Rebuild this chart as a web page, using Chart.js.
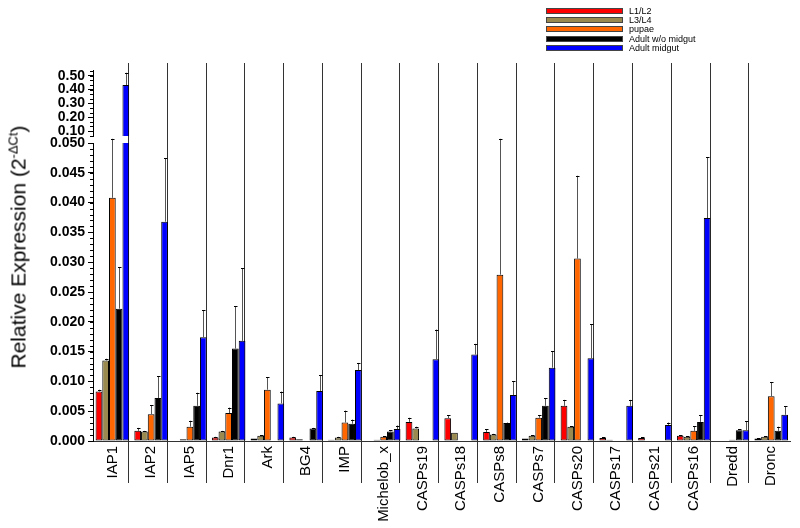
<!DOCTYPE html>
<html><head><meta charset="utf-8">
<script src="https://cdn.jsdelivr.net/npm/chart.js@4.4.1/dist/chart.umd.min.js"></script>
<style>
html,body{margin:0;padding:0;background:#fff;}
#wrap{position:relative;width:800px;height:528px;overflow:hidden;font-family:"Liberation Sans",Arial,sans-serif;background:#fff;}
canvas{position:absolute;left:0;top:0;}
#ytitle{position:absolute;left:18px;top:247px;transform:translate(-50%,-50%) rotate(-90deg);font-size:21px;white-space:nowrap;line-height:1;color:#000;}
#ytitle sup{font-size:13px;vertical-align:8px;line-height:0;}
#legend{position:absolute;left:546px;top:6px;font-size:9px;color:#000;}
.row{height:9.4px;display:flex;align-items:center;}
.box{width:75px;height:4px;border:1px solid #444;margin-right:6px;}
</style></head>
<body><div id="wrap">
<canvas id="lower" width="800" height="528"></canvas>
<canvas id="upper" width="800" height="150"></canvas>
<div id="ytitle">Relative Expression (2<sup>-ΔCt</sup>)</div>
<div id="legend"></div>
</div>
<script>
const categories = ['IAP1','IAP2','IAP5','Dnr1','Ark','BG4','IMP','Michelob_x','CASPs19','CASPs18','CASPs8','CASPs7','CASPs20','CASPs17','CASPs21','CASPs16','Dredd','Dronc'];
const seriesNames = ['L1/L2','L3/L4','pupae','Adult w/o midgut','Adult midgut'];

const l1l2      = [0.0083,0.0017,0.0001,0.0006,0.0004,0.0006,0.0002,0.0001,0.0032,0.0038,0.0015,0.0004,0.0059,0.0005,0.0005,0.0009,0.0001,0.0004];
const l1l2Err   = [0.0003,0.0005,0,0.0001,0,0.0001,0,0,0.0007,0.0005,0.0005,0,0.0010,0.0001,0.0001,0.0001,0,0.0001];
const l3l4      = [0.0135,0.0016,0.0003,0.0016,0.0009,0.0003,0.0006,0.0002,0.0021,0.0014,0.0011,0.0009,0.0024,0.0002,0.0001,0.0007,0.0001,0.0007];
const l3l4Err   = [0.0003,0.0001,0,0.0001,0.0001,0,0.0001,0,0.0003,0,0.0001,0.0001,0.0001,0,0,0.0001,0,0.0001];
const pupae     = [0.0408,0.0045,0.0024,0.0047,0.0086,null,0.0031,0.0007,null,null,0.0279,0.0039,0.0306,null,null,0.0017,0.0002,0.0075];
const pupaeErr  = [0.0099,0.0015,0.0010,0.0009,0.0021,0,0.0020,0.0001,0,0,0.0228,0.0004,0.0139,0,0,0.0008,0,0.0024];
const adultWo   = [0.0222,0.0072,0.0059,0.0155,null,0.0021,0.0029,0.0016,null,null,0.0030,0.0059,null,null,null,0.0032,0.0018,0.0017];
const adultWoErr= [0.0070,0.0037,0.0022,0.0071,0,0.0001,0.0007,0.0002,0,0,0.0001,0.0013,0,0,0,0.0011,0.0002,0.0007];
const adultMid  = [0.433,0.0368,0.0174,0.0168,0.0063,0.0084,0.0119,0.0020,0.0137,0.0145,0.0077,0.0123,0.0139,0.0059,0.0027,0.0374,0.0018,0.0044];
const adultMidErr=[0.089,0.0106,0.0045,0.0122,0.0020,0.0026,0.0012,0.0006,0.0050,0.0018,0.0023,0.0028,0.0057,0.0010,0.0004,0.0102,0.0015,0.0014];

const lowerTickValues = [0.000,0.005,0.010,0.015,0.020,0.025,0.030,0.035,0.040,0.045,0.050];
const upperTickValues = [0.10,0.20,0.30,0.40,0.50];

const seriesValues = [l1l2,l3l4,pupae,adultWo,adultMid];
const seriesErrors = [l1l2Err,l3l4Err,pupaeErr,adultWoErr,adultMidErr];
const seriesColors = ['#ff0000','#9a8a50','#ff6600','#000000','#0000ff'];

const FONT = '"Liberation Sans", Arial, sans-serif';
const CAT_PCT = 0.867;
const PLOT_LEFT = 93;
const PLOT_RIGHT_PAD = 9.4;

// legend
const lg = document.getElementById('legend');
seriesNames.forEach((n,i)=>{
  const r=document.createElement('div');r.className='row';
  const b=document.createElement('div');b.className='box';b.style.background=seriesColors[i];
  const t=document.createElement('span');t.textContent=n;
  r.appendChild(b);r.appendChild(t);lg.appendChild(r);
});

function makeDatasets(){
  return seriesValues.map((vals,i)=>({
    label: seriesNames[i],
    data: vals,
    errors: seriesErrors[i],
    backgroundColor: seriesColors[i],
    borderColor: '#000',
    borderWidth: 1,
    borderSkipped: false,
    categoryPercentage: CAT_PCT,
    barPercentage: 1.0,
    clip: 0
  }));
}

const errorBars = {
  id:'errorBars',
  afterDatasetsDraw(chart){
    const ctx=chart.ctx, ys=chart.scales.y;
    chart.data.datasets.forEach((ds,i)=>{
      const meta=chart.getDatasetMeta(i);
      meta.data.forEach((el,j)=>{
        const v=ds.data[j], e=ds.errors[j];
        if(v==null||!e) return;
        if(v<ys.min||v>ys.max) return;
        const x=Math.round(el.x)+0.5;
        const y0=ys.getPixelForValue(v), y1=ys.getPixelForValue(v+e);
        ctx.save();
        ctx.lineWidth=1;
        ctx.strokeStyle='#555';
        ctx.beginPath();ctx.moveTo(x,y0);ctx.lineTo(x,y1);ctx.stroke();
        ctx.strokeStyle='#000';
        ctx.beginPath();ctx.moveTo(x-1.5,Math.round(y1)+0.5);ctx.lineTo(x+2,Math.round(y1)+0.5);ctx.stroke();
        ctx.restore();
      });
    });
  }
};

function minorTicks(step){
  return {
    id:'minorTicks',
    afterDraw(chart){
      const ctx=chart.ctx, ys=chart.scales.y, left=chart.chartArea.left;
      const start=Math.ceil(ys.min/step-1e-6);
      ctx.save();ctx.strokeStyle='#000';ctx.lineWidth=1;
      for(let k=start;;k++){
        const v=k*step; if(v>ys.max+1e-9) break;
        const y=Math.round(ys.getPixelForValue(v))+0.5;
        ctx.beginPath();ctx.moveTo(left-3,y);ctx.lineTo(left,y);ctx.stroke();
      }
      ctx.restore();
    }
  };
}

const separators = {
  id:'separators',
  beforeDatasetsDraw(chart){
    const ctx=chart.ctx, xs=chart.scales.x;
    const half=(xs.width/categories.length)*CAT_PCT/2;
    ctx.save();ctx.strokeStyle='#333';ctx.lineWidth=1;
    for(let k=0;k<categories.length-1;k++){
      const x=Math.round(xs.getPixelForValue(k)+half)-0.5;
      ctx.beginPath();ctx.moveTo(x,63);ctx.lineTo(x,483);ctx.stroke();
    }
    ctx.restore();
  }
};

const yTickFont={family:FONT,size:14,weight:'bold'};

new Chart(document.getElementById('lower'),{
  type:'bar',
  data:{labels:categories,datasets:makeDatasets()},
  options:{
    responsive:false,animation:false,devicePixelRatio:1,
    layout:{padding:{top:143,right:PLOT_RIGHT_PAD,left:0,bottom:0}},
    plugins:{legend:{display:false},tooltip:{enabled:false}},
    scales:{
      x:{
        grid:{display:false,drawTicks:false},
        border:{display:true,color:'#333'},
        ticks:{autoSkip:false,minRotation:90,maxRotation:90,padding:5,color:'#000',font:{family:FONT,size:15}},
        afterFit:s=>{s.height=87;}
      },
      y:{
        min:0,max:0.05,
        afterBuildTicks:s=>{s.ticks=lowerTickValues.map(v=>({value:v}));},
        ticks:{autoSkip:false,color:'#000',padding:3,font:yTickFont,callback:v=>Number(v).toFixed(3)},
        grid:{display:true,drawOnChartArea:false,tickLength:5,tickColor:'#000'},
        border:{display:true,color:'#000'},
        afterFit:s=>{s.width=PLOT_LEFT;}
      }
    }
  },
  plugins:[separators,errorBars,minorTicks(0.001)]
});

new Chart(document.getElementById('upper'),{
  type:'bar',
  data:{labels:categories,datasets:makeDatasets()},
  options:{
    responsive:false,animation:false,devicePixelRatio:1,
    layout:{padding:{top:70,right:PLOT_RIGHT_PAD,left:0,bottom:14}},
    plugins:{legend:{display:false},tooltip:{enabled:false}},
    scales:{
      x:{display:false},
      y:{
        min:0.064,max:0.542,
        afterBuildTicks:s=>{s.ticks=upperTickValues.map(v=>({value:v}));},
        ticks:{autoSkip:false,color:'#000',padding:3,font:yTickFont,callback:v=>Number(v).toFixed(2)},
        grid:{display:true,drawOnChartArea:false,tickLength:5,tickColor:'#000'},
        border:{display:true,color:'#000'},
        afterFit:s=>{s.width=PLOT_LEFT;}
      }
    }
  },
  plugins:[errorBars,minorTicks(0.1/3)]
});
</script>
</body></html>
